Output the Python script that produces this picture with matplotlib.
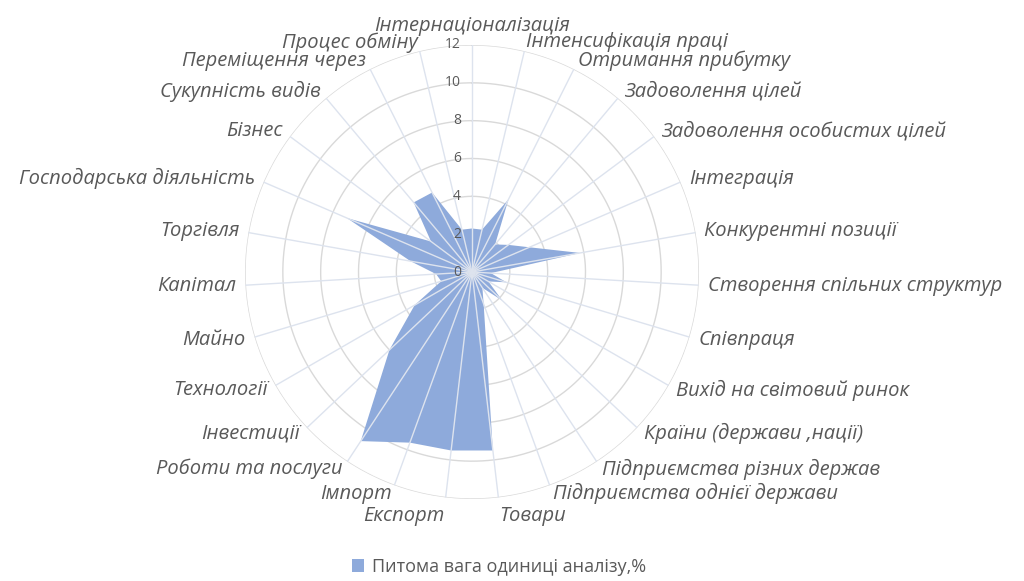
import numpy as np
import matplotlib
matplotlib.use("Agg")
import matplotlib.pyplot as plt

categories = [
    "Інтернаціоналізація", "Інтенсифікація праці", "Отримання прибутку",
    "Задоволення цілей", "Задоволення особистих цілей", "Інтеграція",
    "Конкурентні позиції", "Створення спільних структур", "Співпраця",
    "Вихід на світовий ринок", "Країни (держави ,нації)",
    "Підприємства різних держав", "Підприємства однієї держави", "Товари",
    "Експорт", "Імпорт", "Роботи та послуги", "Інвестиції", "Технології",
    "Майно", "Капітал", "Торгівля", "Господарська діяльність", "Бізнес",
    "Сукупність видів", "Переміщення через", "Процес обміну",
]
values = [2.3, 2.3, 4.3, 1.9, 2.4, 3.3, 5.8, 1.0, 1.9, 1.0, 2.2, 1.0, 1.8,
          9.5, 9.5, 9.6, 10.7, 6.0, 3.5, 1.7, 1.9, 3.3, 7.2, 2.7, 4.8, 4.7, 2.3]
rticks = [0, 2, 4, 6, 8, 10, 12]
series_name = "Питома вага одиниці аналізу,%"

W, H = 1024, 581
fig = plt.figure(figsize=(W / 100, H / 100), dpi=100)
cx, cy, R = 472, 272, 227
ax = fig.add_axes([(cx - R) / W, (H - cy - R) / H, 2 * R / W, 2 * R / H],
                  projection="polar")
ax.set_theta_zero_location("N")
ax.set_theta_direction(-1)
rmax = rticks[-1]
ax.set_ylim(0, rmax)

n = len(categories)
theta = np.arange(n) * 2 * np.pi / n

grid_c = "#d9d9d9"
text_c = "#595959"
fill_c = "#8eaadb"

ax.grid(False)
ax.set_xticks([])
ax.set_yticks([])
ax.spines["polar"].set_visible(False)

# rings
tt = np.linspace(0, 2 * np.pi, 400)
for r in rticks[1:]:
    ax.plot(tt, np.full_like(tt, r), color=grid_c, lw=1, zorder=1)

# filled series
th_c = np.append(theta, theta[0])
v_c = np.append(values, values[0])
ax.fill(th_c, v_c, color=fill_c, zorder=2, lw=0)

# spokes
for t in theta:
    ax.plot([t, t], [0, rmax], color="#dde3ee", lw=1, zorder=3)

# radial tick labels
for r in rticks:
    ax.annotate(str(r), xy=(0, r), xytext=(-11, 0), textcoords="offset pixels",
                ha="right", va="center", fontsize=10, color=text_c,
                family="Open Sans", zorder=4)

# category labels
rl = rmax * 236 / 227
for t, lab in zip(theta, categories):
    s, c = np.sin(t), np.cos(t)
    if abs(s) < 0.01:
        ha = "center"
    elif s > 0:
        ha = "left"
    else:
        ha = "right"
    if c > 0.99:
        va = "bottom"
    elif c < -0.98:
        va = "top"
    else:
        va = "center"
    ax.text(t, rl, lab, ha=ha, va=va, fontsize=14.5, style="italic",
            color=text_c, family="Open Sans")

# legend
from matplotlib.patches import Patch
fig.legend(handles=[Patch(facecolor=fill_c, edgecolor="none", label=series_name)],
           loc="center", bbox_to_anchor=(0.487, 1 - 567 / H), frameon=False,
           prop={"family": "Open Sans", "size": 13}, labelcolor=text_c,
           handlelength=0.7, handleheight=0.7, handletextpad=0.4)

fig.savefig("out.png", dpi=100, facecolor="white")
